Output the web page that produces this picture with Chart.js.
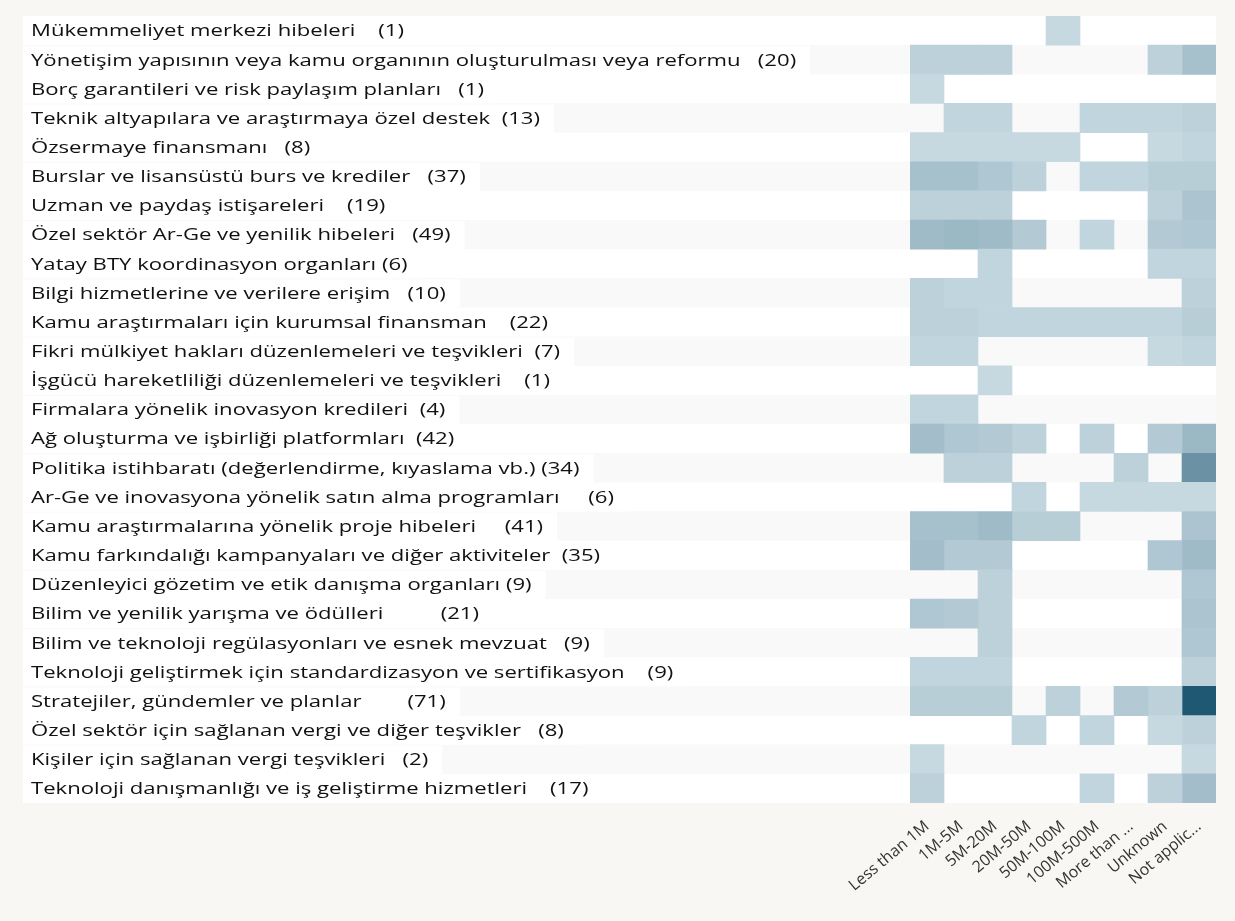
<!DOCTYPE html>
<html>
<head>
<meta charset="utf-8">
<script src="https://cdn.jsdelivr.net/npm/chart.js@4.4.1/dist/chart.umd.min.js"></script>
<style>
  html, body { margin: 0; padding: 0; background: #f8f7f4; }
  #wrap { width: 1235px; height: 921px; position: relative; }
</style>
</head>
<body>
<div id="wrap"><canvas id="heatChart"></canvas></div>
<script>
// budget size classes (columns)
const columns = ['Less than 1M', '1M-5M', '5M-20M', '20M-50M', '50M-100M', '100M-500M', 'More than ...', 'Unknown', 'Not applic...'];

// policy instruments (rows), count in brackets
const rowLabels = [
  'Mükemmeliyet merkezi hibeleri    (1)',
  'Yönetişim yapısının veya kamu organının oluşturulması veya reformu   (20)',
  'Borç garantileri ve risk paylaşım planları   (1)',
  'Teknik altyapılara ve araştırmaya özel destek  (13)',
  'Özsermaye finansmanı   (8)',
  'Burslar ve lisansüstü burs ve krediler   (37)',
  'Uzman ve paydaş istişareleri    (19)',
  'Özel sektör Ar-Ge ve yenilik hibeleri   (49)',
  'Yatay BTY koordinasyon organları (6)',
  'Bilgi hizmetlerine ve verilere erişim   (10)',
  'Kamu araştırmaları için kurumsal finansman    (22)',
  'Fikri mülkiyet hakları düzenlemeleri ve teşvikleri  (7)',
  'İşgücü hareketliliği düzenlemeleri ve teşvikleri    (1)',
  'Firmalara yönelik inovasyon kredileri  (4)',
  'Ağ oluşturma ve işbirliği platformları  (42)',
  'Politika istihbaratı (değerlendirme, kıyaslama vb.) (34)',
  'Ar-Ge ve inovasyona yönelik satın alma programları     (6)',
  'Kamu araştırmalarına yönelik proje hibeleri     (41)',
  'Kamu farkındalığı kampanyaları ve diğer aktiviteler  (35)',
  'Düzenleyici gözetim ve etik danışma organları (9)',
  'Bilim ve yenilik yarışma ve ödülleri          (21)',
  'Bilim ve teknoloji regülasyonları ve esnek mevzuat   (9)',
  'Teknoloji geliştirmek için standardizasyon ve sertifikasyon    (9)',
  'Stratejiler, gündemler ve planlar        (71)',
  'Özel sektör için sağlanan vergi ve diğer teşvikler   (8)',
  'Kişiler için sağlanan vergi teşvikleri   (2)',
  'Teknoloji danışmanlığı ve iş geliştirme hizmetleri    (17)'
];

// number of initiatives per row, one array per budget class
const lessThan1M = [0, 3, 1, 0, 1, 8, 3, 10, 0, 3, 3, 2, 0, 2, 9, 0, 0, 8, 9, 0, 6, 0, 2, 4, 0, 1, 3];
const m1to5      = [0, 3, 0, 2, 1, 8, 3, 11, 0, 2, 3, 2, 0, 2, 6, 3, 0, 8, 5, 0, 5, 0, 2, 4, 0, 0, 0];
const m5to20     = [0, 3, 0, 2, 1, 6, 3, 10, 2, 2, 2, 0, 1, 0, 5, 3, 0, 10, 5, 3, 3, 3, 2, 4, 0, 0, 0];
const m20to50    = [0, 0, 0, 0, 1, 3, 0, 5, 0, 0, 2, 0, 0, 0, 3, 0, 2, 4, 0, 0, 0, 0, 0, 0, 2, 0, 0];
const m50to100   = [1, 0, 0, 0, 1, 0, 0, 0, 0, 0, 2, 0, 0, 0, 0, 0, 0, 4, 0, 0, 0, 0, 0, 3, 0, 0, 0];
const m100to500  = [0, 0, 0, 2, 0, 2, 0, 2, 0, 0, 2, 0, 0, 0, 3, 0, 1, 0, 0, 0, 0, 0, 0, 0, 2, 0, 2];
const moreThan   = [0, 0, 0, 2, 0, 2, 0, 0, 0, 0, 2, 0, 0, 0, 0, 3, 1, 0, 0, 0, 0, 0, 0, 5, 0, 0, 0];
const unknown    = [0, 3, 0, 2, 1, 4, 3, 5, 2, 0, 2, 1, 0, 0, 5, 0, 1, 0, 6, 0, 0, 0, 0, 3, 1, 0, 3];
const notApplic  = [0, 8, 0, 3, 2, 4, 7, 6, 2, 3, 4, 2, 0, 0, 11, 25, 1, 7, 10, 6, 7, 6, 3, 48, 3, 1, 9];

const columnValues = [lessThan1M, m1to5, m5to20, m20to50, m50to100, m100to500, moreThan, unknown, notApplic];

const lightCell = [198, 217, 225];
const darkCell = [31, 88, 114];
const maxValue = Math.max(...columnValues.map(a => Math.max(...a)));

function cellColor(v) {
  let t = Math.min(1, Math.max(0, (v - 1) / (maxValue - 1)));
  t = Math.pow(t, 0.88);
  const c = lightCell.map((l, i) => Math.round(l + (darkCell[i] - l) * t));
  return 'rgb(' + c.join(',') + ')';
}

const datasets = columnValues.map((vals, c) => ({
  label: columns[c],
  data: vals.map(v => v > 0 ? [c, c + 1] : null),
  backgroundColor: ctx => cellColor(vals[ctx.dataIndex]),
  borderWidth: 0,
  categoryPercentage: 1,
  barPercentage: 1,
  grouped: false
}));

// page background and striped rows
const stripes = {
  id: 'stripes',
  beforeDraw(chart) {
    const { ctx, chartArea, scales } = chart;
    ctx.save();
    ctx.fillStyle = '#f8f7f4';
    ctx.fillRect(0, 0, chart.width, chart.height);
    const h = chartArea.height / rowLabels.length;
    rowLabels.forEach((lbl, i) => {
      const yc = scales.y.getPixelForValue(i);
      ctx.fillStyle = i % 2 === 0 ? '#ffffff' : '#f9f9f9';
      ctx.fillRect(23, yc - h / 2, chartArea.right - 23, h);
    });
    ctx.restore();
  }
};

// row labels, stretched wide like the original screenshot, on white boxes
const rowText = {
  id: 'rowText',
  afterDraw(chart) {
    const { ctx, chartArea, scales } = chart;
    const h = chartArea.height / rowLabels.length;
    const sx = 1.3;
    ctx.save();
    ctx.font = '17px "Open Sans"';
    ctx.textBaseline = 'middle';
    rowLabels.forEach((lbl, i) => {
      const yc = scales.y.getPixelForValue(i);
      const w = ctx.measureText(lbl).width * sx;
      ctx.fillStyle = '#ffffff';
      ctx.fillRect(23, yc - h / 2 + 1, w + 22, h - 1);
      ctx.save();
      ctx.translate(31, yc + 1);
      ctx.scale(sx, 1);
      ctx.fillStyle = '#111111';
      ctx.fillText(lbl, 0, 0);
      ctx.restore();
    });
    ctx.restore();
  }
};

new Chart(document.getElementById('heatChart'), {
  type: 'bar',
  data: { labels: rowLabels, datasets: datasets },
  options: {
    indexAxis: 'y',
    responsive: true,
    maintainAspectRatio: false,
    animation: false,
    layout: { padding: { left: 910, right: 19, top: 16, bottom: 0 } },
    plugins: { legend: { display: false }, tooltip: { enabled: false } },
    scales: {
      y: {
        type: 'category',
        display: false
      },
      x: {
        type: 'linear',
        min: 0,
        max: columns.length,
        grid: { display: false, drawTicks: false },
        border: { display: false },
        afterBuildTicks: s => { s.ticks = columns.map((c, i) => ({ value: i + 0.5 })); },
        afterFit: s => { s.height = 921 - 803; },
        ticks: {
          autoSkip: false,
          minRotation: 40,
          maxRotation: 40,
          padding: 14,
          color: '#333333',
          font: { family: 'Open Sans', size: 16 },
          callback: (v, i) => columns[i]
        }
      }
    }
  },
  plugins: [stripes, rowText]
});
</script>
</body>
</html>
